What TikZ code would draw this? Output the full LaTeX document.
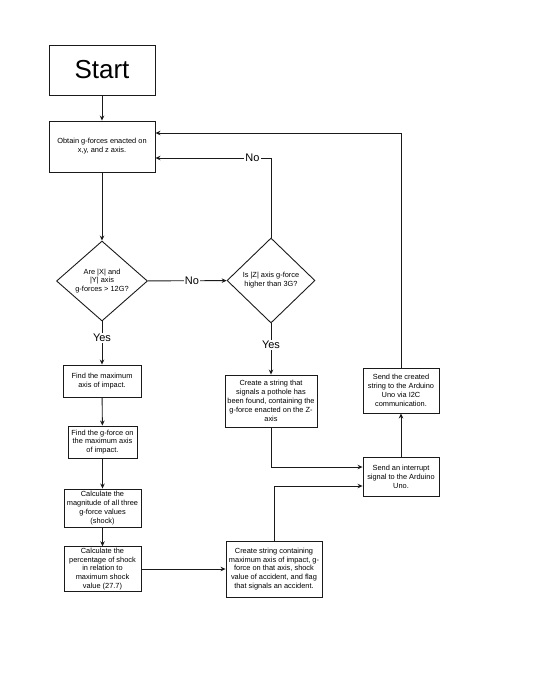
\documentclass[tikz,border=0pt]{standalone}
\usepackage{fontspec}
\setmainfont{Liberation Sans}
\usepackage{tikz}
\usetikzlibrary{shapes.geometric,arrows.meta}
\definecolor{ink}{HTML}{1A1A1A}

\begin{document}
\begin{tikzpicture}[x=1pt,y=-1pt,>={Stealth[length=5pt,width=4.5pt]},
  box/.style={draw=ink,line width=0.9pt,align=center,inner sep=1pt,font=\fontsize{7.4}{8.9}\selectfont},
  test/.style={draw=ink,diamond,line width=0.9pt,align=center,inner sep=0pt,font=\fontsize{7.4}{8.9}\selectfont},
  flow/.style={->,draw=ink,line width=0.9pt},
  lbl/.style={fill=white,inner sep=1pt,font=\fontsize{11}{11}\selectfont}]
  \useasboundingbox (0,0) rectangle (540,699);
  \node[box,minimum width=106pt,minimum height=50pt,font=\fontsize{26}{26}\selectfont] (start) at (102,70) {Start};
  \node[box,minimum width=106pt,minimum height=51pt] (obtain) at (102,146.5) {Obtain g-forces enacted on\\x,y, and z axis.};
  \node[test,minimum width=91pt,minimum height=80pt] (xy) at (102,281) {Are |X| and\\|Y| axis\\g-forces > 12G?};
  \node[test,minimum width=88pt,minimum height=85pt] (z) at (271,280.5) {Is |Z| axis g-force\\higher than 3G?};
  \node[box,minimum width=78pt,minimum height=32pt] (maxaxis) at (102,381) {Find the maximum\\axis of impact.};
  \node[box,minimum width=69pt,minimum height=32pt] (maxg) at (102.5,442) {Find the g-force on\\the maximum axis\\of impact.};
  \node[box,minimum width=77pt,minimum height=38pt] (shock) at (102.5,508) {Calculate the\\magnitude of all three\\g-force values\\(shock)};
  \node[box,minimum width=77pt,minimum height=44pt] (percent) at (102.5,569) {Calculate the\\percentage of shock\\in relation to\\maximum shock\\value (27.7)};
  \node[box,minimum width=96pt,minimum height=56pt] (accident) at (274,569) {Create string containing\\maximum axis of impact, g-\\force on that axis, shock\\value of accident, and flag\\that signals an accident.};
  \node[box,minimum width=92pt,minimum height=52pt] (pothole) at (271,401) {Create a string that\\signals a pothole has\\been found, containing the\\g-force enacted on the Z-\\axis};
  \node[box,minimum width=76pt,minimum height=39pt] (interrupt) at (401,476.5) {Send an interrupt\\signal to the Arduino\\Uno.};
  \node[box,minimum width=76pt,minimum height=45pt] (send) at (401,390.5) {Send the created\\string to the Arduino\\Uno via I2C\\communication.};
  \draw[flow] (start) -- (obtain);
  \draw[flow] (obtain) -- (xy);
  \draw[flow] (xy) -- node[lbl,pos=0.56]{No} (z);
  \draw[flow] (z.north) |- node[lbl,pos=0.58]{No} ([yshift=-11.5pt]obtain.east);
  \draw[flow] (xy) -- node[lbl,pos=0.38]{Yes} (maxaxis);
  \draw[flow] (z) -- node[lbl,pos=0.42]{Yes} (pothole);
  \draw[flow] (maxaxis) -- (maxg);
  \draw[flow] (maxg) -- (shock);
  \draw[flow] (shock) -- (percent);
  \draw[flow] (percent) -- (accident);
  \draw[flow] (pothole.south) |- ([yshift=9.5pt]interrupt.west);
  \draw[flow] (accident.north) |- ([yshift=-9.5pt]interrupt.west);
  \draw[flow] (interrupt) -- (send);
  \draw[flow] (send.north) |- ([yshift=13.5pt]obtain.east);
\end{tikzpicture}
\end{document}
